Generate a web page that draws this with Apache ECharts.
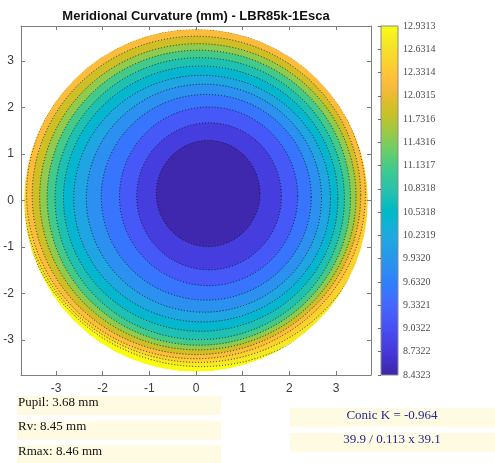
<!DOCTYPE html>
<html>
<head>
<meta charset="utf-8">
<script src="https://cdn.jsdelivr.net/npm/echarts@6/dist/echarts.min.js"></script>
<style>
  html, body { margin: 0; padding: 0; background: #fff; }
  #chart { width: 495px; height: 463px; }
</style>
</head>
<body>
<div id="chart"></div>
<script>
// Colour bar range and tick labels, mm
const levels = [8.4323, 8.7322, 9.0322, 9.3321, 9.6320, 9.9320, 10.2319, 10.5318,
                10.8318, 11.1317, 11.4316, 11.7316, 12.0315, 12.3314, 12.6314, 12.9313];
const tickLabels = ['8.4323', '8.7322', '9.0322', '9.3321', '9.6320', '9.9320', '10.2319', '10.5318',
                    '10.8318', '11.1317', '11.4316', '11.7316', '12.0315', '12.3314', '12.6314', '12.9313'];

// Iso-curvature contours, centre to edge: elliptical outlines (centre, semi-axes) in mm
const contourCx = [0.26, 0.28, 0.27, 0.22, 0.17, 0.13, 0.10, 0.08, 0.06, 0.04, 0.01, 0.00, 0.05, 0.12];
const contourCy = [0.15, 0.09, 0.09, 0.07, 0.05, 0.04, 0.04, 0.04, 0.06, 0.08, 0.11, 0.14, 0.17, 0.20];
const contourRx = [1.11, 1.55, 1.91, 2.25, 2.52, 2.75, 2.94, 3.10, 3.25, 3.39, 3.52, 3.63, 3.75, 3.87];
const contourRy = [1.14, 1.58, 1.92, 2.21, 2.45, 2.65, 2.85, 3.03, 3.17, 3.29, 3.42, 3.54, 3.65, 3.77];

// Curvature of each filled band, centre band first (mm)
const bandValue = [8.46, 8.80, 9.15, 9.50, 9.85, 10.15, 10.45, 10.75, 11.10, 11.50, 11.85, 12.20, 12.45, 12.70, 12.93];

const pupilRadius = 3.68;
const axisExtent = 3.75;

// Info panel texts
const leftInfo = ['Pupil: 3.68 mm', 'Rv: 8.45 mm', 'Rmax: 8.46 mm'];
const rightInfo = ['Conic K = -0.964', '39.9 / 0.113 x 39.1'];

// parula colormap (64 entries)
const parula = [
[0.2422,0.1504,0.6603],[0.2504,0.1650,0.7076],[0.2578,0.1818,0.7511],[0.2647,0.1978,0.7952],
[0.2706,0.2147,0.8364],[0.2751,0.2342,0.8710],[0.2783,0.2559,0.8991],[0.2803,0.2782,0.9221],
[0.2813,0.3006,0.9414],[0.2810,0.3228,0.9579],[0.2795,0.3447,0.9717],[0.2760,0.3667,0.9829],
[0.2699,0.3892,0.9906],[0.2602,0.4123,0.9952],[0.2440,0.4358,0.9988],[0.2206,0.4603,0.9973],
[0.1963,0.4847,0.9892],[0.1834,0.5074,0.9798],[0.1786,0.5289,0.9682],[0.1764,0.5499,0.9520],
[0.1687,0.5703,0.9359],[0.1540,0.5902,0.9218],[0.1460,0.6091,0.9079],[0.1380,0.6276,0.8973],
[0.1248,0.6459,0.8883],[0.1113,0.6635,0.8763],[0.0952,0.6798,0.8598],[0.0689,0.6948,0.8394],
[0.0297,0.7082,0.8163],[0.0036,0.7203,0.7917],[0.0067,0.7312,0.7660],[0.0433,0.7411,0.7394],
[0.0964,0.7500,0.7120],[0.1408,0.7584,0.6842],[0.1717,0.7670,0.6554],[0.1938,0.7758,0.6251],
[0.2161,0.7843,0.5923],[0.2470,0.7918,0.5567],[0.2906,0.7973,0.5188],[0.3406,0.8008,0.4789],
[0.3909,0.8029,0.4354],[0.4456,0.8024,0.3909],[0.5044,0.7993,0.3480],[0.5616,0.7942,0.3045],
[0.6174,0.7876,0.2612],[0.6720,0.7793,0.2227],[0.7242,0.7698,0.1910],[0.7738,0.7598,0.1646],
[0.8203,0.7498,0.1535],[0.8634,0.7406,0.1596],[0.9035,0.7330,0.1774],[0.9393,0.7288,0.2100],
[0.9728,0.7298,0.2394],[0.9956,0.7434,0.2371],[0.9970,0.7659,0.2199],[0.9952,0.7893,0.2028],
[0.9892,0.8136,0.1885],[0.9786,0.8386,0.1766],[0.9676,0.8639,0.1643],[0.9610,0.8890,0.1537],
[0.9597,0.9135,0.1423],[0.9628,0.9373,0.1265],[0.9691,0.9606,0.1064],[0.9769,0.9839,0.0805]
].map(c => 'rgb(' + c.map(v => Math.round(v * 255)).join(',') + ')');

// Contour series data: pupil disc (outermost band) first, then contours from outside in;
// each contour is filled with the band it encloses
const contourData = [[0, 0, pupilRadius, pupilRadius, bandValue[bandValue.length - 1]]];
for (let i = contourCx.length - 1; i >= 0; i--) {
  contourData.push([contourCx[i], contourCy[i], contourRx[i], contourRy[i], bandValue[i]]);
}

function ellipsePath(cx, cy, rx, ry, ccw) {
  const s = ccw ? 0 : 1;
  return 'M ' + (cx + rx) + ' ' + cy +
         ' A ' + rx + ' ' + ry + ' 0 1 ' + s + ' ' + (cx - rx) + ' ' + cy +
         ' A ' + rx + ' ' + ry + ' 0 1 ' + s + ' ' + (cx + rx) + ' ' + cy + ' Z';
}

const axisGray = '#7d7d7d';
const labelGray = '#3a3a3a';

const chart = echarts.init(document.getElementById('chart'), null, { renderer: 'canvas' });

const mainAxisCommon = {
  type: 'value', min: -axisExtent, max: axisExtent,
  minInterval: 1, maxInterval: 1, splitNumber: 8,
  z: 5,
  axisLine: { show: true, onZero: false, lineStyle: { color: axisGray, width: 1 } },
  axisTick: { show: true, inside: true, length: 4, lineStyle: { color: axisGray } },
  splitLine: { show: false }
};

const option = {
  animation: false,
  backgroundColor: '#fff',
  grid: [
    { left: 21, top: 26, width: 350, height: 349, containLabel: false },
    { left: 381, top: 26, width: 17, height: 349, containLabel: false }
  ],
  xAxis: [
    Object.assign({}, mainAxisCommon, {
      gridIndex: 0, position: 'bottom',
      axisLabel: { show: true, margin: 8, color: labelGray, fontFamily: 'Liberation Sans, Arial, sans-serif',
                   fontSize: 12, showMinLabel: false, showMaxLabel: false }
    }),
    Object.assign({}, mainAxisCommon, {
      gridIndex: 0, position: 'top', axisLabel: { show: false }
    }),
    { type: 'value', gridIndex: 1, min: 0, max: 1, show: false }
  ],
  yAxis: [
    Object.assign({}, mainAxisCommon, {
      gridIndex: 0, position: 'left',
      axisLabel: { show: true, margin: 7, color: labelGray, fontFamily: 'Liberation Sans, Arial, sans-serif',
                   fontSize: 12, showMinLabel: false, showMaxLabel: false }
    }),
    Object.assign({}, mainAxisCommon, {
      gridIndex: 0, position: 'right', axisLabel: { show: false }
    }),
    {
      type: 'value', gridIndex: 1, position: 'right', min: 0, max: levels.length - 1, interval: 1, z: 5,
      axisLine: { show: false },
      axisTick: { show: true, inside: true, length: 3, lineStyle: { color: '#6a6a6a' } },
      splitLine: { show: false },
      axisLabel: {
        show: true, margin: 5, color: '#4a4a4a', fontFamily: 'Liberation Serif, Times New Roman, serif', fontSize: 10,
        formatter: v => tickLabels[Math.round(v)]
      }
    }
  ],
  visualMap: {
    type: 'continuous', show: false, seriesIndex: 0, dimension: 4,
    min: levels[0], max: levels[levels.length - 1],
    inRange: { color: parula }
  },
  series: [
    {
      // filled contour bands with dotted iso-lines
      type: 'custom', xAxisIndex: 0, yAxisIndex: 0, clip: true, silent: true,
      data: contourData,
      renderItem: function (params, api) {
        const c = api.coord([api.value(0), api.value(1)]);
        const s = api.size([api.value(2), api.value(3)]);
        const outline = params.dataIndex > 0;
        return {
          type: 'path',
          shape: { pathData: ellipsePath(c[0], c[1], s[0], s[1], false) },
          style: {
            fill: api.visual('color'),
            stroke: outline ? 'rgba(10,10,10,0.8)' : null,
            lineWidth: outline ? 1 : 0,
            lineDash: outline ? [1, 2] : null
          }
        };
      }
    },
    {
      // white surround that trims the map to the pupil
      type: 'custom', xAxisIndex: 0, yAxisIndex: 0, clip: false, silent: true,
      data: [[0]],
      renderItem: function (params, api) {
        const tl = api.coord([-axisExtent, axisExtent]);
        const br = api.coord([axisExtent, -axisExtent]);
        const c = api.coord([0, 0]);
        const s = api.size([pupilRadius, pupilRadius]);
        const x0 = tl[0] - 20, y0 = tl[1] - 25, x1 = br[0] + 6, y1 = br[1] + 6;
        const d = 'M ' + x0 + ' ' + y0 + ' L ' + x1 + ' ' + y0 + ' L ' + x1 + ' ' + y1 +
                  ' L ' + x0 + ' ' + y1 + ' Z ' + ellipsePath(c[0], c[1], s[0], s[1], true);
        return { type: 'path', shape: { pathData: d }, style: { fill: '#ffffff' } };
      }
    },
    {
      // colour bar
      type: 'custom', xAxisIndex: 2, yAxisIndex: 2, silent: true,
      data: [[0]],
      renderItem: function (params, api) {
        const p0 = api.coord([0, 0]);
        const p1 = api.coord([1, levels.length - 1]);
        return {
          type: 'rect',
          shape: { x: p0[0], y: p1[1], width: p1[0] - p0[0], height: p0[1] - p1[1] },
          style: {
            fill: {
              type: 'linear', x: 0, y: 1, x2: 0, y2: 0, global: false,
              colorStops: parula.map((col, i) => ({ offset: i / (parula.length - 1), color: col }))
            },
            stroke: '#8a8a8a', lineWidth: 1
          }
        };
      }
    }
  ],
  graphic: [
    {
      type: 'text', z: 100, x: 196, y: 16,
      style: {
        text: 'Meridional Curvature (mm) - LBR85k-1Esca',
        font: 'bold 13px "Liberation Sans", Arial, sans-serif',
        fill: '#111', textAlign: 'center', textVerticalAlign: 'middle'
      }
    },
    { type: 'rect', z: 90, shape: { x: 17, y: 396, width: 204, height: 19 }, style: { fill: '#fefbe2' } },
    { type: 'rect', z: 90, shape: { x: 17, y: 421, width: 204, height: 19 }, style: { fill: '#fefbe2' } },
    { type: 'rect', z: 90, shape: { x: 17, y: 445, width: 204, height: 18 }, style: { fill: '#fefbe2' } },
    { type: 'rect', z: 90, shape: { x: 290, y: 408, width: 205, height: 19 }, style: { fill: '#fefbe2' } },
    { type: 'rect', z: 90, shape: { x: 290, y: 433, width: 205, height: 19 }, style: { fill: '#fefbe2' } },
    { type: 'text', z: 100, x: 18, y: 403, style: { text: leftInfo[0], font: '13px "Liberation Serif", "Times New Roman", serif', fill: '#111', textAlign: 'left', textVerticalAlign: 'middle' } },
    { type: 'text', z: 100, x: 18, y: 427, style: { text: leftInfo[1], font: '13px "Liberation Serif", "Times New Roman", serif', fill: '#111', textAlign: 'left', textVerticalAlign: 'middle' } },
    { type: 'text', z: 100, x: 18, y: 451.5, style: { text: leftInfo[2], font: '13px "Liberation Serif", "Times New Roman", serif', fill: '#111', textAlign: 'left', textVerticalAlign: 'middle' } },
    { type: 'text', z: 100, x: 392, y: 415.5, style: { text: rightInfo[0], font: '13px "Liberation Serif", "Times New Roman", serif', fill: '#26269a', textAlign: 'center', textVerticalAlign: 'middle' } },
    { type: 'text', z: 100, x: 392, y: 439.5, style: { text: rightInfo[1], font: '13px "Liberation Serif", "Times New Roman", serif', fill: '#26269a', textAlign: 'center', textVerticalAlign: 'middle' } }
  ]
};

chart.setOption(option);
</script>
</body>
</html>
